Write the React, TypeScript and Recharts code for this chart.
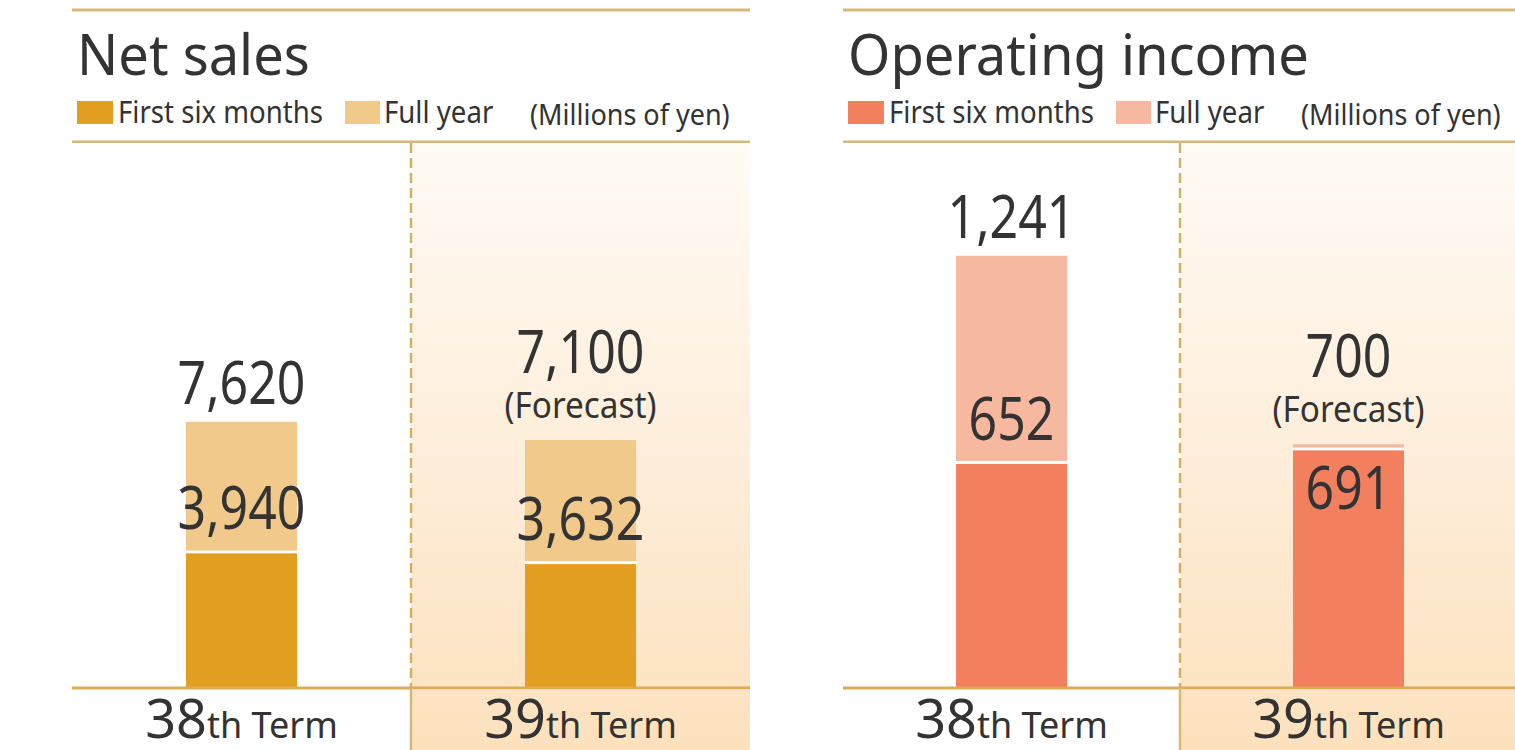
import React from "react";
import { BarChart, Bar, XAxis, YAxis, ReferenceArea, LabelList } from "recharts";

// ---- data ----
const terms = ["38th Term", "39th Term"];
const forecastFlags = [false, true];
const netSalesFirstHalf = [3940, 3632];
const netSalesFullYear = [7620, 7100];
const opIncomeFirstHalf = [652, 691];
const opIncomeFullYear = [1241, 700];
const legendLabels = ["First six months", "Full year"];
const unitLabel = "(Millions of yen)";
const forecastLabel = "(Forecast)";
const panelTitles = ["Net sales", "Operating income"];

// ---- layout / style ----
const H = 750;
const MT = 143;
const AXIS_H = 62;
const AXIS_Y = H - AXIS_H;
const FONT = "'Noto Sans', 'Open Sans', sans-serif";
const TEXT = "#333333";
const LINE = "#d6b877";
const AXIS = "#dcaa55";

const fmt = (v: number) => v.toLocaleString("en-US");

type PanelProps = {
  id: string;
  left: number;
  width: number;
  title: string;
  first: number[];
  full: number[];
  yMax: number;
  cFirst: string;
  cFull: string;
};

function Num({ cx, by, text }: { cx: number; by: number; text: string }) {
  return (
    <text
      transform={`translate(${cx} ${by}) scale(0.82 1)`}
      x={0}
      y={0}
      textAnchor="middle"
      fontSize={61}
      fontFamily={FONT}
      fill={TEXT}
    >
      {text}
    </text>
  );
}

function Panel({ id, left, width, title, first, full, yMax, cFirst, cFull }: PanelProps) {
  const rows = terms.map((term, i) => ({ term, first: first[i], rest: full[i] - first[i] }));
  const gradId = `grad-${id}`;
  const n = terms.length;

  const renderTick = (props: any) => {
    const { x, payload } = props;
    const idx = payload?.index ?? props.index ?? 0;
    const bandHalf = payload?.offset ? payload.offset : width / n / 2;
    const m = String(payload.value).match(/^(\d+)(.*)$/);
    const big = m ? m[1] : String(payload.value);
    const small = m ? m[2] : "";
    return (
      <g>
        {forecastFlags[idx] && (
          <rect x={x - bandHalf} y={AXIS_Y + 1.5} width={bandHalf * 2} height={AXIS_H} fill={`url(#${gradId})`} />
        )}
        {idx > 0 && (
          <line x1={x - bandHalf} x2={x - bandHalf} y1={AXIS_Y} y2={H} stroke={LINE} strokeWidth={2.5} />
        )}
        <text x={x} y={738} textAnchor="middle" fill={TEXT} fontFamily={FONT}>
          <tspan fontSize={54}>{big}</tspan>
          <tspan fontSize={36}>{small}</tspan>
        </text>
      </g>
    );
  };

  const bgShape = (p: any) => {
    const { x, y, width: w, height: h } = p;
    return (
      <g>
        <rect x={x} y={y} width={w} height={h} fill={`url(#${gradId})`} />
        <line x1={x} x2={x} y1={y} y2={y + h} stroke="#d4b064" strokeWidth={2.5} strokeDasharray="10 5" />
      </g>
    );
  };

  const firstShape = (p: any) => {
    const { x, y, width: w, height: h } = p;
    return (
      <g>
        <rect x={x} y={y} width={w} height={h} fill={cFirst} />
        <rect x={x} y={y} width={w} height={3} fill="#ffffff" />
      </g>
    );
  };

  const firstLabel = (p: any) => {
    const { x, y, width: w, height: h, index } = p;
    const i = index ?? 0;
    const restPx = first[i] > 0 ? ((full[i] - first[i]) / first[i]) * h : 0;
    const cx = x + w / 2;
    const by = restPx > 70 ? y - 21 : y + 62;
    return <Num cx={cx} by={by} text={fmt(first[i])} />;
  };

  const fullLabel = (p: any) => {
    const { x, y, width: w, index } = p;
    const i = index ?? 0;
    const cx = x + w / 2;
    if (forecastFlags[i]) {
      return (
        <g>
          <Num cx={cx} by={y - 67} text={fmt(full[i])} />
          <text
            transform={`translate(${cx} ${y - 22}) scale(0.9 1)`}
            x={0}
            y={0}
            textAnchor="middle"
            fontSize={37}
            fontFamily={FONT}
            fill={TEXT}
          >
            {forecastLabel}
          </text>
        </g>
      );
    }
    return <Num cx={cx} by={y - 18} text={fmt(full[i])} />;
  };

  return (
    <div style={{ position: "absolute", left, top: 0, width, height: H }}>
      <div style={{ position: "absolute", left: 0, top: 0 }}>
        <BarChart width={width} height={H} data={rows} margin={{ top: MT, right: 0, bottom: 0, left: 0 }}>
          <defs>
            <linearGradient id={gradId} gradientUnits="userSpaceOnUse" x1="0" y1={MT} x2="0" y2={H}>
              <stop offset="0" stopColor="#fffbf5" />
              <stop offset="0.5" stopColor="#feeedb" />
              <stop offset="1" stopColor="#fde1bd" />
            </linearGradient>
          </defs>
          {terms
            .filter((_, i) => forecastFlags[i])
            .map((t) => (
              <ReferenceArea key={t} x1={t} x2={t} y1={0} y2={yMax} shape={bgShape} ifOverflow="visible" />
            ))}
          <XAxis
            dataKey="term"
            type="category"
            height={AXIS_H}
            interval={0}
            tickLine={false}
            axisLine={{ stroke: AXIS, strokeWidth: 3 }}
            tick={renderTick}
          />
          <YAxis hide type="number" domain={[0, yMax]} allowDataOverflow />
          <Bar dataKey="first" stackId="s" fill={cFirst} barSize={111} shape={firstShape} isAnimationActive={false}>
            <LabelList dataKey="first" content={firstLabel} />
          </Bar>
          <Bar dataKey="rest" stackId="s" fill={cFull} barSize={111} isAnimationActive={false}>
            <LabelList dataKey="rest" content={fullLabel} />
          </Bar>
        </BarChart>
      </div>
      <svg
        width={width}
        height={MT}
        style={{ position: "absolute", left: 0, top: 0, pointerEvents: "none" }}
      >
        <rect x={0} y={8.5} width={width} height={3} fill={LINE} />
        <text
          transform="translate(5 75) scale(0.97 1)"
          x={0}
          y={0}
          fontSize={56}
          fontFamily={FONT}
          fill={TEXT}
        >
          {title}
        </text>
        <rect x={5} y={101} width={36} height={23} fill={cFirst} />
        <text transform="translate(46 123) scale(0.92 1)" x={0} y={0} fontSize={30} fontFamily={FONT} fill={TEXT}>
          {legendLabels[0]}
        </text>
        <rect x={273} y={101} width={35} height={23} fill={cFull} />
        <text transform="translate(312 123) scale(0.92 1)" x={0} y={0} fontSize={30} fontFamily={FONT} fill={TEXT}>
          {legendLabels[1]}
        </text>
        <text transform="translate(458 125) scale(0.9 1)" x={0} y={0} fontSize={30} fontFamily={FONT} fill={TEXT}>
          {unitLabel}
        </text>
        <rect x={0} y={140.5} width={width} height={3} fill={LINE} />
      </svg>
    </div>
  );
}

export default function App() {
  return (
    <div
      style={{
        position: "absolute",
        left: 0,
        top: 0,
        width: 1515,
        height: H,
        overflow: "hidden",
        background: "#ffffff",
        fontFamily: FONT,
      }}
    >
      <Panel
        id="net"
        left={72}
        width={678}
        title={panelTitles[0]}
        first={netSalesFirstHalf}
        full={netSalesFullYear}
        yMax={15600}
        cFirst="#e29e20"
        cFull="#f0c98b"
      />
      <Panel
        id="op"
        left={843}
        width={674}
        title={panelTitles[1]}
        first={opIncomeFirstHalf}
        full={opIncomeFullYear}
        yMax={1565}
        cFirst="#f27f5e"
        cFull="#f7b8a0"
      />
    </div>
  );
}
